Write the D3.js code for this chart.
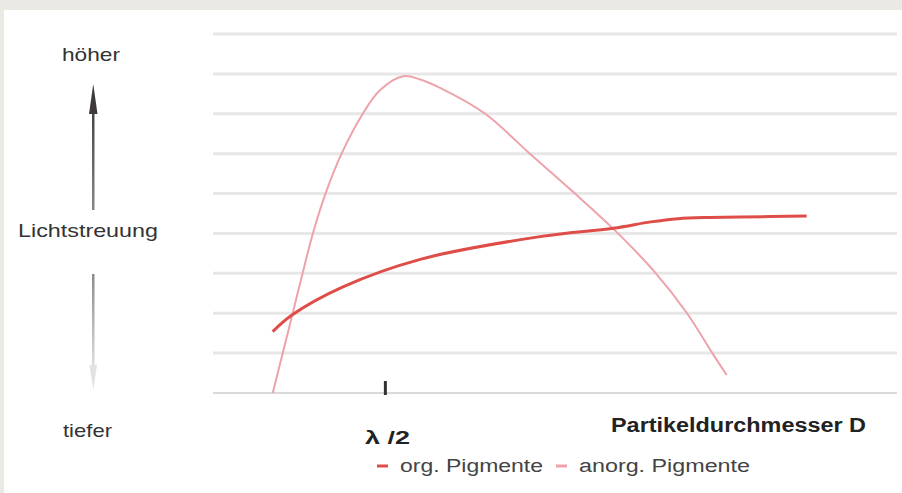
<!DOCTYPE html>
<html>
<head>
<meta charset="utf-8">
<script src="https://cdn.jsdelivr.net/npm/d3@7"></script>
<style>
  body { margin: 0; background: #ebe9e4; }
  text { font-family: "Liberation Sans", Arial, sans-serif; }
</style>
</head>
<body>
<script>
// Curve data (x: particle diameter, arbitrary units; y: light scattering, grid units)
var orgX = [0.873, 1.15, 1.90, 3.03, 4.78, 5.85, 6.40, 6.80, 7.20, 7.70, 8.68];
var orgY = [1.54, 1.95, 2.66, 3.35, 3.92, 4.13, 4.29, 4.37, 4.40, 4.41, 4.44];

var anorgX = [0.873, 1.02, 1.165, 1.31, 1.46, 1.645, 1.88, 2.19, 2.44, 2.78, 3.03, 3.32, 3.98, 4.60, 5.26, 5.85, 6.45, 6.93, 7.30, 7.51];
var anorgY = [0.00, 1.00, 2.00, 3.00, 4.00, 5.00, 6.00, 7.00, 7.59, 7.94, 7.86, 7.65, 7.00, 6.05, 5.05, 4.12, 3.05, 2.00, 1.00, 0.45];

var gridValues = [0, 1, 2, 3, 4, 5, 6, 7, 8, 9];
var lambdaHalf = 2.52;

var legendLabels = ["org. Pigmente", "anorg. Pigmente"];
var legendColors = ["#df4d48", "#eea2aa"];

var width = 902, height = 493;

var svg = d3.select("body").append("svg")
  .attr("width", width)
  .attr("height", height);

// white panel
svg.append("rect")
  .attr("x", 4).attr("y", 10)
  .attr("width", width - 4).attr("height", height - 10)
  .attr("fill", "#ffffff");

var x = d3.scaleLinear().domain([0, 10]).range([213, 897]);
var y = d3.scaleLinear().domain([0, 9]).range([393, 34]);

// horizontal grid lines
svg.selectAll(".grid")
  .data(gridValues.slice(1))
  .enter().append("line")
  .attr("class", "grid")
  .attr("x1", x(0)).attr("x2", x(10))
  .attr("y1", function(d){ return y(d); })
  .attr("y2", function(d){ return y(d); })
  .attr("stroke", "#e7e7e7")
  .attr("stroke-width", 3);

// baseline
svg.append("line")
  .attr("x1", x(0)).attr("x2", x(10))
  .attr("y1", y(0)).attr("y2", y(0))
  .attr("stroke", "#dadada")
  .attr("stroke-width", 2);

// lambda/2 tick
svg.append("line")
  .attr("x1", x(lambdaHalf)).attr("x2", x(lambdaHalf))
  .attr("y1", y(0) - 12).attr("y2", y(0) + 2)
  .attr("stroke", "#333")
  .attr("stroke-width", 3);

var line = d3.line()
  .x(function(d){ return x(d[0]); })
  .y(function(d){ return y(d[1]); })
  .curve(d3.curveCatmullRom.alpha(0.5));

svg.append("path")
  .datum(d3.zip(anorgX, anorgY))
  .attr("d", line)
  .attr("fill", "none")
  .attr("stroke", legendColors[1])
  .attr("stroke-width", 2);

svg.append("path")
  .datum(d3.zip(orgX, orgY))
  .attr("d", line)
  .attr("fill", "none")
  .attr("stroke", legendColors[0])
  .attr("stroke-width", 3);

// vertical axis annotation: gradients and arrows
var defs = svg.append("defs");
var gUp = defs.append("linearGradient").attr("id", "gUp")
  .attr("x1", 0).attr("y1", 0).attr("x2", 0).attr("y2", 1);
gUp.append("stop").attr("offset", "0%").attr("stop-color", "#3e3a3a");
gUp.append("stop").attr("offset", "100%").attr("stop-color", "#8a8686");
var gDown = defs.append("linearGradient").attr("id", "gDown")
  .attr("x1", 0).attr("y1", 0).attr("x2", 0).attr("y2", 1);
gDown.append("stop").attr("offset", "0%").attr("stop-color", "#8c8a8a");
gDown.append("stop").attr("offset", "100%").attr("stop-color", "#e4e4e4");

var ax = 93;
svg.append("rect")
  .attr("x", ax - 1).attr("y", 96).attr("width", 2.5).attr("height", 114)
  .attr("fill", "url(#gUp)");
svg.append("path")
  .attr("d", "M" + (ax - 4) + ",114 L" + (ax + 0.25) + ",84 L" + (ax + 4.5) + ",114 Z")
  .attr("fill", "#3e3a3a");

svg.append("rect")
  .attr("x", ax - 1).attr("y", 274).attr("width", 2.5).attr("height", 100)
  .attr("fill", "url(#gDown)");
svg.append("path")
  .attr("d", "M" + (ax - 3.5) + ",365 L" + (ax + 0.25) + ",390 L" + (ax + 4) + ",365 Z")
  .attr("fill", "#e2e2e2");

function label(txt, x0, x1, base, size, weight, color) {
  svg.append("text")
    .attr("x", x0).attr("y", base)
    .attr("font-size", size)
    .attr("font-weight", weight)
    .attr("fill", color)
    .attr("textLength", x1 - x0)
    .attr("lengthAdjust", "spacingAndGlyphs")
    .text(txt);
}

label("höher", 62, 120, 61, 19, "normal", "#333");
label("Lichtstreuung", 18, 158, 237, 19, "normal", "#333");
label("tiefer", 63, 112, 437, 19, "normal", "#333");

// x-axis labels
label("λ /2", 365, 410, 444, 19, "bold", "#222");
label("Partikeldurchmesser  D", 611, 866, 432, 20, "bold", "#222");

// legend
var legendX = [377, 556];
var legendEnd = [543, 750];
legendLabels.forEach(function(d, i){
  svg.append("line")
    .attr("x1", legendX[i]).attr("x2", legendX[i] + 11)
    .attr("y1", 466).attr("y2", 466)
    .attr("stroke", legendColors[i])
    .attr("stroke-width", 3);
  label(d, legendX[i] + 23, legendEnd[i], 472, 18, "normal", "#444");
});
</script>
</body>
</html>
